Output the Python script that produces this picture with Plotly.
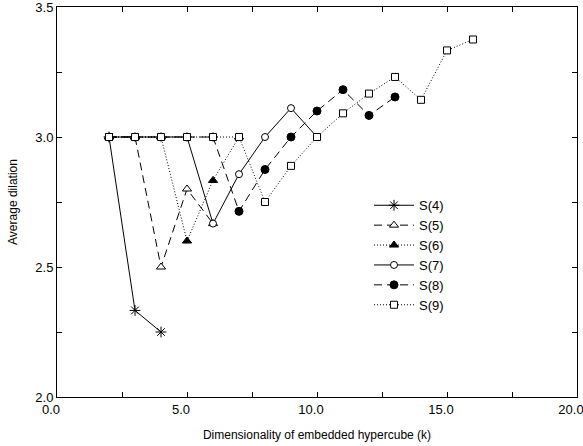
import plotly.graph_objects as go

# Data
s4_k = [2, 3, 4]
s4_v = [3.0, 2.333, 2.25]

s5_k = [2, 3, 4, 5, 6]
s5_v = [3.0, 3.0, 2.5, 2.8, 2.667]

s6_k = [2, 3, 4, 5, 6, 7]
s6_v = [3.0, 3.0, 3.0, 2.6, 2.833, 3.0]

s7_k = [2, 3, 4, 5, 6, 7, 8, 9, 10]
s7_v = [3.0, 3.0, 3.0, 3.0, 2.667, 2.857, 3.0, 3.111, 3.0]

s8_k = [2, 3, 4, 5, 6, 7, 8, 9, 10, 11, 12, 13]
s8_v = [3.0, 3.0, 3.0, 3.0, 3.0, 2.714, 2.875, 3.0, 3.1, 3.182, 3.083, 3.154]

s9_k = [2, 3, 4, 5, 6, 7, 8, 9, 10, 11, 12, 13, 14, 15, 16]
s9_v = [3.0, 3.0, 3.0, 3.0, 3.0, 3.0, 2.75, 2.889, 3.0, 3.091, 3.167, 3.231, 3.143, 3.333, 3.375]

series = [
    ("S(4)", s4_k, s4_v, "asterisk-open", "black", "solid", 9),
    ("S(5)", s5_k, s5_v, "triangle-up", "white", "8px,5px", 8),
    ("S(6)", s6_k, s6_v, "triangle-up", "black", "1px,2px", 8),
    ("S(7)", s7_k, s7_v, "circle", "white", "solid", 7),
    ("S(8)", s8_k, s8_v, "circle", "black", "8px,5px", 8),
    ("S(9)", s9_k, s9_v, "square", "white", "1px,2px", 7),
]

fig = go.Figure()
for name, k, v, sym, fill, dash, size in series:
    fig.add_trace(go.Scatter(
        x=k, y=v, name=name, mode="lines+markers",
        line=dict(color="black", width=1, dash=dash),
        marker=dict(symbol=sym, size=size, color=fill,
                    line=dict(color="black", width=1)),
    ))

axis_common = dict(
    showgrid=False, zeroline=False, showline=True, linecolor="black",
    linewidth=1, mirror="ticks", ticks="inside", ticklen=5,
    tickcolor="black", tickfont=dict(size=13, color="black"),
    automargin=False, ticklabeloverflow="allow",
)

fig.update_xaxes(range=[0, 20], dtick=5, tick0=0, tickformat=".1f",
                 ticklabelshift=-6,
                 minor=dict(dtick=2.5, ticks="inside", ticklen=5, tickcolor="black"),
                 title=dict(text="Dimensionality of embedded hypercube (k)",
                            font=dict(size=12, color="black")),
                 **axis_common)
fig.update_yaxes(range=[2.0, 3.5], dtick=0.5, tick0=2.0, tickformat=".1f",
                 minor=dict(dtick=0.25, ticks="inside", ticklen=5, tickcolor="black"),
                 title=dict(text="Average dilation",
                            font=dict(size=12, color="black")),
                 **axis_common)

fig.update_layout(
    width=583, height=446,
    margin=dict(l=57, r=6, t=7, b=49),
    paper_bgcolor="white", plot_bgcolor="white",
    font=dict(family="Liberation Sans, Arial, sans-serif", size=12, color="black"),
    legend=dict(x=0.6, y=0.53, xanchor="left", yanchor="top",
                bgcolor="rgba(0,0,0,0)", font=dict(size=13),
                itemwidth=40, tracegroupgap=0),
)

fig.write_html(
    "out.html",
    config={"displayModeBar": False},
    post_script="document.body.style.margin='0';document.body.style.overflow='hidden';",
)
